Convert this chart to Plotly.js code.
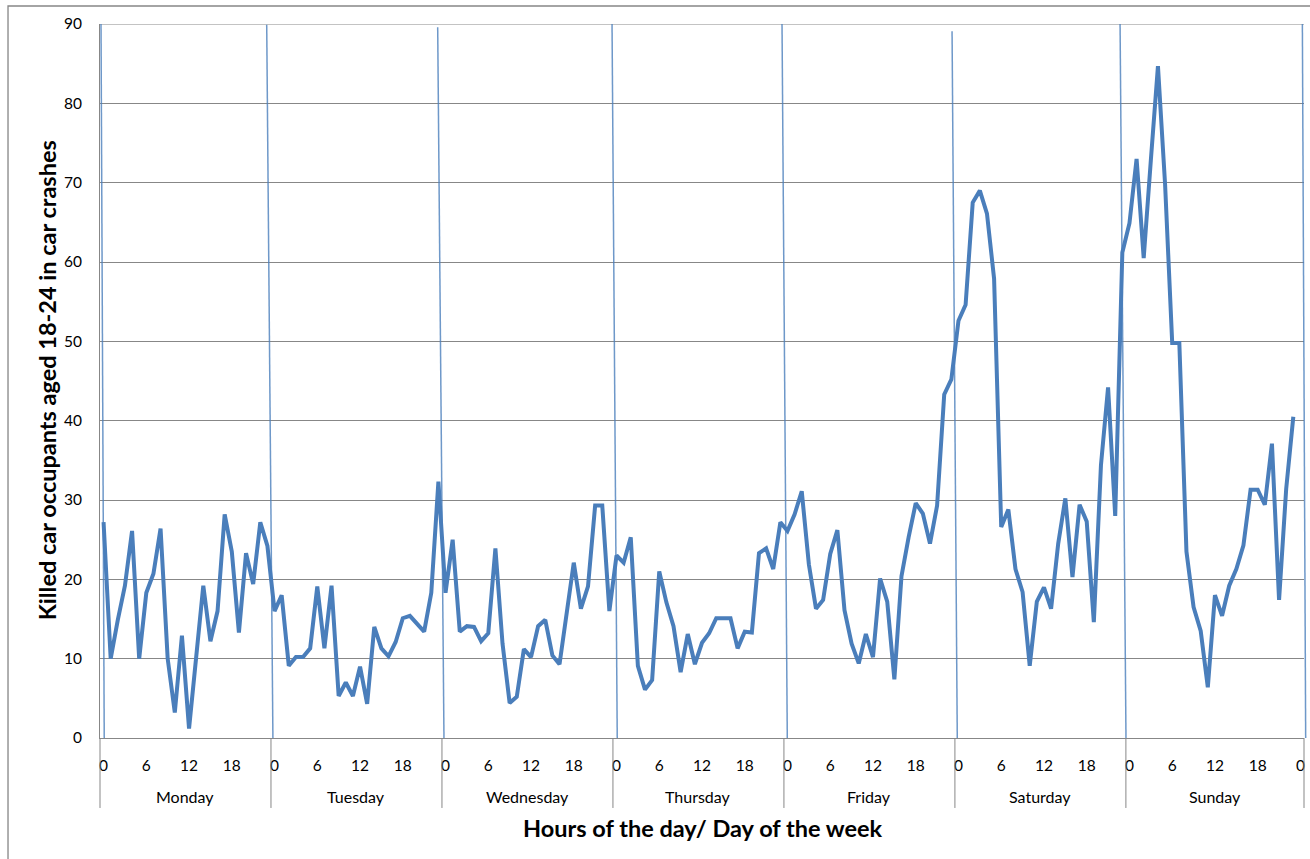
<!DOCTYPE html>
<html>
<head>
<meta charset="utf-8">
<script src="https://cdn.plot.ly/plotly-3.0.1.min.js"></script>
<style>
  html, body { margin: 0; padding: 0; background: #fff; }
  #chart { width: 1310px; height: 859px; }
</style>
</head>
<body>
<div id="chart"></div>
<script>
// ---- data ----
const days = ['Monday', 'Tuesday', 'Wednesday', 'Thursday', 'Friday', 'Saturday', 'Sunday'];
const hourTicks = [0, 6, 12, 18];

const monday    = [27.2, 10.0, 14.9, 19.2, 26.1, 10.0, 18.3, 20.7, 26.4, 10.0, 3.2, 12.9, 1.2, 10.0, 19.2, 12.2, 16.0, 28.2, 23.5, 13.3, 23.3, 19.4, 27.2, 24.2];
const tuesday   = [16.0, 18.0, 9.1, 10.2, 10.2, 11.3, 19.1, 11.3, 19.2, 5.3, 7.0, 5.3, 9.0, 4.3, 14.0, 11.3, 10.3, 12.1, 15.1, 15.4, 14.3, 13.4, 18.3, 32.3];
const wednesday = [18.3, 25.0, 13.4, 14.1, 14.0, 12.2, 13.2, 23.9, 11.9, 4.4, 5.2, 11.2, 10.2, 14.1, 14.9, 10.4, 9.3, 15.8, 22.1, 16.3, 19.1, 29.3, 29.3, 16.0];
const thursday  = [23.0, 22.1, 25.3, 9.1, 6.1, 7.3, 21.0, 17.1, 14.1, 8.3, 13.1, 9.3, 12.0, 13.2, 15.1, 15.1, 15.1, 11.3, 13.4, 13.3, 23.3, 23.9, 21.3, 27.2];
const friday    = [26.1, 28.2, 31.1, 21.9, 16.3, 17.4, 23.2, 26.2, 16.1, 11.9, 9.4, 13.1, 10.2, 20.1, 17.2, 7.4, 20.4, 25.3, 29.6, 28.3, 24.5, 29.3, 43.3, 45.2];
const saturday  = [52.6, 54.6, 67.5, 69.0, 66.1, 57.9, 26.6, 28.8, 21.3, 18.4, 9.1, 17.2, 19.0, 16.3, 24.5, 30.2, 20.3, 29.4, 27.3, 14.6, 34.4, 44.2, 28.0, 61.2];
const sunday    = [64.9, 73.0, 60.5, 72.8, 84.7, 69.8, 49.8, 49.8, 23.5, 16.5, 13.5, 6.4, 18.0, 15.4, 19.2, 21.3, 24.3, 31.3, 31.3, 29.4, 37.1, 17.4, 31.4, 40.5];

const yTitle = 'Killed car occupants aged 18-24 in car crashes';
const xTitle = 'Hours of the day/ Day of the week';

// ---- styles (hand-drawn day separator slant, in hours relative to day start) ----
const sepTopOffset    = [-0.36, -1.10, -1.10, -0.63, -0.77, -0.90, -1.32, 0.27];
const sepBottomOffset = [ 0.10, -0.22, -0.21,  0.11, -0.02, -0.16, -0.48, 0.74];
const sepTopY = [90.3, 89.9, 89.6, 90.2, 90.2, 89.1, 90.2, 90.2];

// ---- build ----
const weekData = [monday, tuesday, wednesday, thursday, friday, saturday, sunday];
const values = [].concat(...weekData);
const xs = values.map((_, i) => i);
const nCats = days.length * 24 + 1; // final category "0" of next day

const tickvals = [], ticktext = [];
days.forEach((d, di) => hourTicks.forEach(h => { tickvals.push(di * 24 + h); ticktext.push(String(h)); }));
tickvals.push(days.length * 24); ticktext.push('0');

const font = 'Lato, Carlito, Calibri, "Open Sans", sans-serif';
const toPaperX = h => (h + 0.5) / nCats;

const shapes = [];
// chart-area border
shapes.push({type: 'rect', xref: 'paper', yref: 'paper', x0: -0.0764, x1: 1.02, y0: -0.25, y1: 1.0252,
  line: {color: '#868686', width: 1.3}, fillcolor: 'rgba(0,0,0,0)', layer: 'below'});
// top gridline (90)
shapes.push({type: 'line', xref: 'paper', yref: 'y', x0: 0, x1: 1, y0: 90, y1: 90, line: {color: '#878787', width: 1}});
// group separators on category axis
for (let d = 0; d <= days.length; d++) {
  const xp = d < days.length ? (d * 24) / nCats : 1;
  shapes.push({type: 'line', xref: 'paper', yref: 'paper', x0: xp, x1: xp, y0: 0, y1: -0.098,
    line: {color: '#878787', width: 1}});
}
// hand-drawn blue day separators
for (let d = 0; d <= days.length; d++) {
  shapes.push({type: 'line', xref: 'paper', yref: 'y',
    x0: toPaperX(d * 24 + sepTopOffset[d]), y0: sepTopY[d],
    x1: toPaperX(d * 24 + sepBottomOffset[d]), y1: -0.9,
    line: {color: 'rgba(74,126,187,0.8)', width: 1.5}});
}

const annotations = [];
days.forEach((d, di) => {
  const start = di * 24, end = di === days.length - 1 ? nCats : di * 24 + 24;
  annotations.push({xref: 'paper', yref: 'paper', x: (start + end) / 2 / nCats, y: -0.0826,
    text: d, showarrow: false, xanchor: 'center', yanchor: 'middle',
    font: {family: font, size: 16, color: '#000'}});
});
annotations.push({xref: 'paper', yref: 'paper', x: 0.5008, y: -0.126, text: '<b>' + xTitle + '</b>',
  showarrow: false, xanchor: 'center', yanchor: 'middle', font: {family: font, size: 23.5, color: '#000'}});
annotations.push({xref: 'paper', yref: 'paper', x: -0.044, y: 0.501, text: '<b>' + yTitle + '</b>',
  showarrow: false, textangle: -90, xanchor: 'center', yanchor: 'middle', font: {family: font, size: 23.5, color: '#000'}});

const trace = {
  type: 'scatter', mode: 'lines', x: xs, y: values,
  line: {color: '#4a7ebb', width: 4, shape: 'linear'},
  hoverinfo: 'x+y'
};

const layout = {
  width: 1310, height: 859,
  margin: {l: 100, r: 6, t: 24, b: 121},
  paper_bgcolor: '#ffffff', plot_bgcolor: '#ffffff',
  showlegend: false,
  xaxis: {
    range: [-0.5, nCats - 0.5], tickmode: 'array', tickvals: tickvals, ticktext: ticktext,
    showgrid: false, zeroline: false, showline: true, linecolor: '#878787', linewidth: 1,
    ticks: '', ticklabelstandoff: 13, tickangle: 0,
    tickfont: {family: font, size: 15.5, color: '#000'}, fixedrange: true
  },
  yaxis: {
    range: [0, 90], tickmode: 'linear', tick0: 0, dtick: 10,
    showgrid: true, gridcolor: '#878787', gridwidth: 1, zeroline: false,
    showline: true, linecolor: '#878787', linewidth: 1,
    ticks: '', ticklabelstandoff: 14,
    tickfont: {family: font, size: 15.5, color: '#000'}, fixedrange: true
  },
  shapes: shapes,
  annotations: annotations
};

Plotly.newPlot('chart', [trace], layout, {displayModeBar: false, staticPlot: true});
</script>
</body>
</html>
